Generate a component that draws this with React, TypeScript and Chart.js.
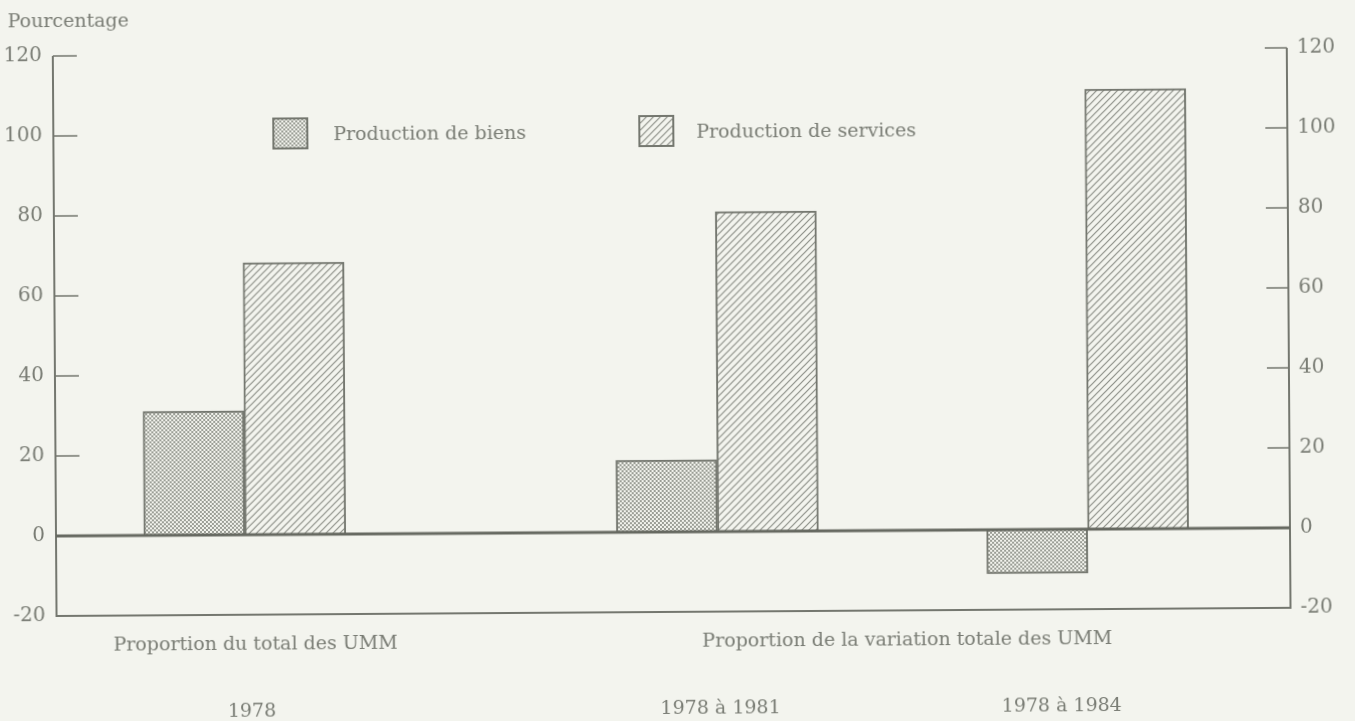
import React, { useEffect, useRef } from 'react';
import { Chart, registerables } from 'chart.js';

Chart.register(...registerables);

// ---------- data ----------
const categories = ['1978', '1978 à 1981', '1978 à 1984'];
// position of each category group along the (hidden) horizontal axis, 0..100
const categoryAxisPositions = [15.3, 53.6, 83.6];
const goodsValues = [31, 18, -11];
const servicesValues = [68, 80, 110];
const seriesNames = ['Production de biens', 'Production de services'];
const sectionTitles = ['Proportion du total des UMM', 'Proportion de la variation totale des UMM'];
const yAxisTitle = 'Pourcentage';
const yTickValues = [-20, 0, 20, 40, 60, 80, 100, 120];

// ---------- styles ----------
const BG = '#f3f4ee';
const INK = '#797c74';
const LINE = '#74776f';
const ZERO = '#666961';
const PAT = '#8e9189';
const FONT = '"DejaVu Serif", "Liberation Serif", serif';
const CATEGORY_LABEL_NUDGE = [6, 2, -27];

function makeDotTile(): HTMLCanvasElement {
  const c = document.createElement('canvas');
  c.width = 4;
  c.height = 4;
  const g = c.getContext('2d')!;
  g.fillStyle = BG;
  g.fillRect(0, 0, 4, 4);
  g.fillStyle = '#9a9d95';
  g.fillRect(0, 0, 2, 2);
  g.fillRect(2, 2, 2, 2);
  return c;
}

function makeHatchTile(): HTMLCanvasElement {
  const s = 7;
  const c = document.createElement('canvas');
  c.width = s;
  c.height = s;
  const g = c.getContext('2d')!;
  g.fillStyle = BG;
  g.fillRect(0, 0, s, s);
  g.strokeStyle = PAT;
  g.lineWidth = 1.2;
  g.beginPath();
  g.moveTo(-1, s + 1);
  g.lineTo(s + 1, -1);
  g.moveTo(-1, 1);
  g.lineTo(1, -1);
  g.moveTo(s - 1, s + 1);
  g.lineTo(s + 1, s - 1);
  g.stroke();
  return c;
}

export default function App() {
  const ref = useRef<HTMLCanvasElement | null>(null);

  useEffect(() => {
    const canvas = ref.current;
    if (!canvas) return;
    const ctx = canvas.getContext('2d')!;
    const dotPattern = ctx.createPattern(makeDotTile(), 'repeat')!;
    const hatchPattern = ctx.createPattern(makeHatchTile(), 'repeat')!;
    const patterns = [dotPattern, hatchPattern];

    const decor = {
      id: 'decor',
      afterDatasetsDraw(chart: any) {
        const { ctx: c, chartArea: a } = chart;
        const ys = chart.scales.y;
        const xs = chart.scales.x;
        c.save();
        c.lineCap = 'butt';
        // frame (left, bottom, right)
        c.strokeStyle = LINE;
        c.lineWidth = 2;
        c.beginPath();
        c.moveTo(a.left, a.top);
        c.lineTo(a.left, a.bottom);
        c.lineTo(a.right, a.bottom);
        c.lineTo(a.right, a.top);
        c.stroke();
        // inward tick marks
        c.lineWidth = 1.6;
        c.beginPath();
        yTickValues.forEach((v) => {
          if (v === 0 || v === ys.min) return;
          const py = ys.getPixelForValue(v);
          c.moveTo(a.left, py);
          c.lineTo(a.left + 24, py);
          c.moveTo(a.right - 22, py);
          c.lineTo(a.right, py);
        });
        c.stroke();
        // zero line
        const y0 = ys.getPixelForValue(0);
        c.strokeStyle = ZERO;
        c.lineWidth = 3;
        c.beginPath();
        c.moveTo(a.left, y0);
        c.lineTo(a.right, y0);
        c.stroke();

        // texts
        c.fillStyle = INK;
        c.font = `19px ${FONT}`;
        c.textBaseline = 'alphabetic';
        c.textAlign = 'left';
        c.fillText(yAxisTitle, 11, 27);

        // legend
        const legend = [
          { bx: 275, tx: 336 },
          { bx: 641, tx: 699 },
        ];
        legend.forEach((l, i) => {
          c.fillStyle = patterns[i];
          c.fillRect(l.bx, 119, 36, 32);
          c.strokeStyle = LINE;
          c.lineWidth = 2;
          c.strokeRect(l.bx + 1, 120, 34, 30);
          c.fillStyle = INK;
          c.textAlign = 'left';
          c.fillText(seriesNames[i], l.tx, 142);
        });

        // section titles and category labels
        c.textAlign = 'center';
        const px = categoryAxisPositions.map((p) => xs.getPixelForValue(p));
        c.fillText(sectionTitles[0], px[0] + 10, 651);
        c.fillText(sectionTitles[1], (px[1] + px[2]) / 2 + 4, 651);
        categories.forEach((cat, i) => {
          c.fillText(cat, px[i] + CATEGORY_LABEL_NUDGE[i], 718);
        });
        c.restore();
      },
    };

    const chart = new Chart(canvas, {
      type: 'bar',
      data: {
        datasets: [
          {
            label: seriesNames[0],
            data: goodsValues.map((v, i) => ({ x: categoryAxisPositions[i], y: v })),
            backgroundColor: dotPattern,
            borderColor: LINE,
            borderWidth: 2,
          },
          {
            label: seriesNames[1],
            data: servicesValues.map((v, i) => ({ x: categoryAxisPositions[i], y: v })),
            backgroundColor: hatchPattern,
            borderColor: LINE,
            borderWidth: 2,
          },
        ],
      },
      options: {
        animation: false,
        responsive: false,
        maintainAspectRatio: false,
        barThickness: 101,
        layout: { padding: { top: 56, bottom: 105, left: 0, right: 0 } },
        plugins: {
          legend: { display: false },
          tooltip: { enabled: false },
        },
        scales: {
          x: {
            type: 'linear',
            min: 0,
            max: 100,
            offset: false,
            grid: { offset: false },
            display: false,
          },
          y: {
            type: 'linear',
            position: 'left',
            min: -20,
            max: 120,
            ticks: {
              stepSize: 20,
              padding: 11,
              color: INK,
              font: { family: FONT, size: 20 },
            },
            grid: { display: false, drawTicks: false },
            border: { display: false },
            afterFit: (s: any) => {
              s.width = 56;
            },
          },
          y2: {
            type: 'linear',
            position: 'right',
            display: true,
            min: -20,
            max: 120,
            ticks: {
              stepSize: 20,
              padding: 10,
              color: INK,
              font: { family: FONT, size: 20 },
            },
            grid: { display: false, drawTicks: false },
            border: { display: false },
            afterFit: (s: any) => {
              s.width = 65;
            },
          },
        },
      } as any,
      plugins: [decor],
    });

    return () => chart.destroy();
  }, []);

  return (
    <div
      style={{
        position: 'fixed',
        left: 0,
        top: 0,
        width: 1355,
        height: 721,
        background: BG,
        overflow: 'hidden',
      }}
    >
      <canvas
        ref={ref}
        width={1355}
        height={721}
        style={{
          display: 'block',
          transform: 'rotate(-0.38deg)',
          transformOrigin: '56px 536px',
        }}
      />
    </div>
  );
}
